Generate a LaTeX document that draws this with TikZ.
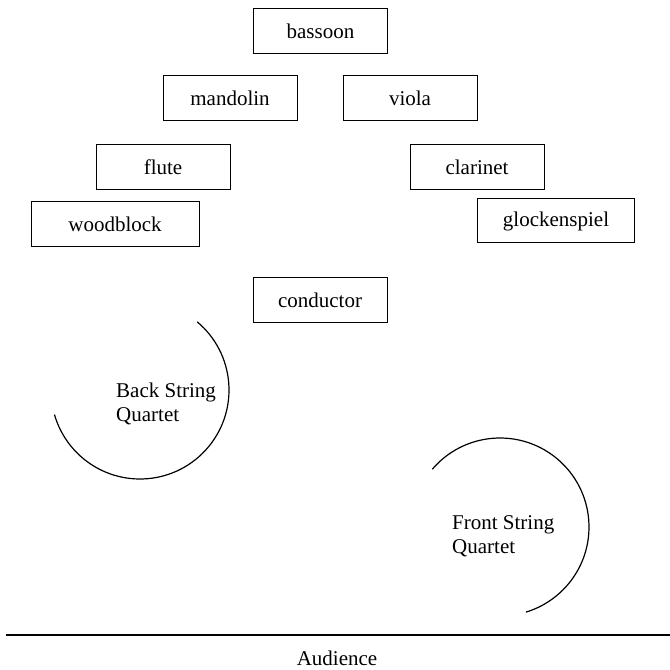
\documentclass[tikz,border=0pt]{standalone}
\usepackage{fontspec}
\setmainfont{Liberation Serif}
\usepackage{tikz}
\tikzstyle{instbox} = [draw=black, fill=white, line width=1pt,
    rectangle, minimum width=134pt, minimum height=45pt, inner sep=0pt,
    font=\fontsize{21}{24}\selectfont]
\tikzstyle{grouplabel} = [align=left, inner sep=0pt, anchor=north west,
    font=\fontsize{21}{24}\selectfont]
\tikzstyle{seatarc} = [line width=1.2pt]

\begin{document}
\begin{tikzpicture}[x=1pt, y=1pt]
\useasboundingbox (0,0) rectangle (670,670);
\node [instbox] (bassoon) at (320.5,639) {bassoon};
\node [instbox] (mandolin) at (230,572) {mandolin};
\node [instbox] (viola) at (410,572) {viola};
\node [instbox] (flute) at (163,503) {flute};
\node [instbox] (clarinet) at (477,503) {clarinet};
\node [instbox, minimum width=168pt] (woodblock) at (115,446) {woodblock};
\node [instbox, minimum width=157pt, minimum height=44pt] (glockenspiel) at (556,449) {glockenspiel};
\node [instbox] (conductor) at (320,370) {conductor};
\coordinate (backq) at (140,280);
\draw [seatarc] ([shift={(50:89pt)}]backq) arc [start angle=50, end angle=-164, radius=89pt];
\node [grouplabel] (backlabel) at (116,287) {Back String\\Quartet};
\coordinate (frontq) at (500,143);
\draw [seatarc] ([shift={(139.5:89pt)}]frontq) arc [start angle=139.5, end angle=-73, radius=89pt];
\node [grouplabel] (frontlabel) at (452,155) {Front String\\Quartet};
\coordinate (stageL) at (6,35);
\coordinate (stageR) at (670,35);
\draw [line width=1.4pt] (stageL) -- (stageR);
\node [anchor=base, inner sep=0pt, font=\fontsize{21}{24}\selectfont] (audience) at (337,5) {Audience};
\end{tikzpicture}
\end{document}
